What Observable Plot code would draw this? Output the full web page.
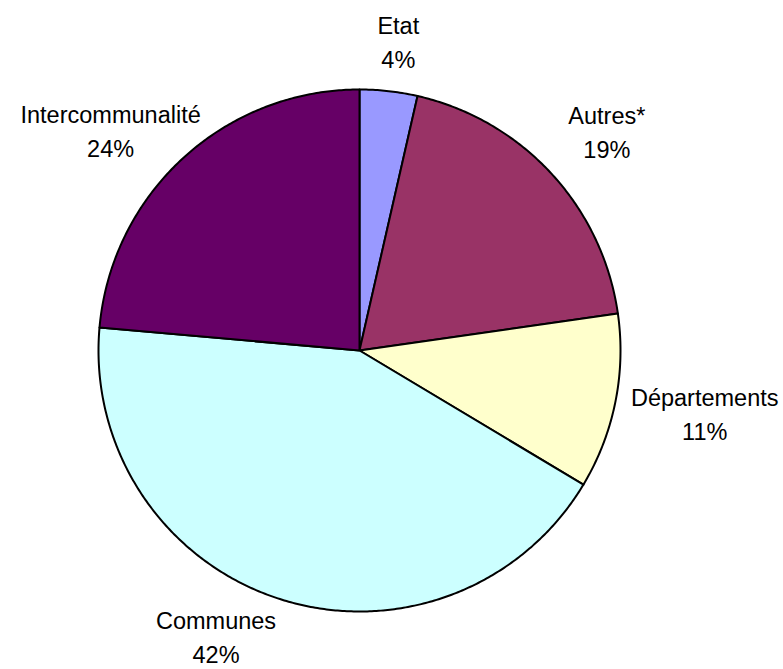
<!DOCTYPE html>
<html><head><meta charset="utf-8">
<script src="https://cdn.jsdelivr.net/npm/d3@7"></script>
<script src="https://cdn.jsdelivr.net/npm/@observablehq/plot@0.6"></script>
<style>html,body{margin:0;padding:0;background:#fff}</style>
</head><body><div id="chart"></div>
<script>
// ---- data ----
const categories = ["Etat", "Autres*", "Départements", "Communes", "Intercommunalité"];
const shares = [3.57, 19.16, 10.86, 42.82, 23.59];
const shareLabels = ["4%", "19%", "11%", "42%", "24%"];
// ---- styles ----
const colors = ["#9999FF", "#993366", "#FFFFCC", "#CCFFFF", "#660066"];

const W = 783, H = 669;
const mL = 98, mR = 163, mT = 89, mB = 58;
const R = (W - mL - mR) / 2;           // pixel radius
const CX = mL + R, CY = mT + R;         // pixel centre
const fs = 23.5, lineH = 34, capH = 0.72 * fs, descH = 0.22 * fs;
const fontFam = "Arial, 'Liberation Sans', sans-serif";

const total = d3.sum(shares);
let acc = 0;
const slices = categories.map((name, i) => {
  const a0 = acc / total * 2 * Math.PI;
  acc += shares[i];
  const a1 = acc / total * 2 * Math.PI;
  return {name, a0, a1, mid: (a0 + a1) / 2, label: name + "\n" + shareLabels[i]};
});

// slice polygons in unit coordinates (clockwise from 12 o'clock)
const pts = [];
for (const s of slices) {
  pts.push({name: s.name, x: 0, y: 0});
  const n = Math.max(2, Math.ceil((s.a1 - s.a0) / (Math.PI / 360)));
  for (let k = 0; k <= n; k++) {
    const a = s.a0 + (s.a1 - s.a0) * k / n;
    pts.push({name: s.name, x: Math.sin(a), y: Math.cos(a)});
  }
  pts.push({name: s.name, x: 0, y: 0});
}

// ---- label layout: outside end, kept inside the chart, snug against the pie ----
const ctx = document.createElement("canvas").getContext("2d");
ctx.font = `${fs}px ${fontFam}`;
const pad = 23, gap = 16, kx = 3, ky = 1.5;
const edge = {left: 20, right: 5, top: 5, bottom: 1 + descH};
const clamp = v => Math.max(-1, Math.min(1, v));
function lineBoxes(cx, cy, lines, widths) {
  const n = lines.length;
  return lines.map((t, i) => {
    const b = cy + (0.82 - n / 2 + i) * lineH;   // baseline as Plot draws it
    return {x0: cx - widths[i] / 2, x1: cx + widths[i] / 2, y0: b - capH, y1: b};
  });
}
function distRect(b) {
  const dx = Math.max(b.x0 - CX, 0, CX - b.x1), dy = Math.max(b.y0 - CY, 0, CY - b.y1);
  return Math.hypot(dx, dy);
}
const labels = slices.map(s => {
  const lines = s.label.split("\n");
  const widths = lines.map(t => ctx.measureText(t).width);
  const n = lines.length;
  const w = Math.max(...widths);
  const hb = ((n - 1) * lineH + capH) / 2;
  const off = (0.82 - n / 2) * lineH + hb - capH; // block centre minus anchor y
  const ux = Math.sin(s.mid), uy = -Math.cos(s.mid);
  let bx = CX + (R + pad) * ux + clamp(kx * ux) * w / 2;
  let by = CY + (R + pad) * uy + clamp(ky * uy) * hb;
  let cX = false;
  if (bx - w / 2 < edge.left) { bx = edge.left + w / 2; cX = true; }
  if (bx + w / 2 > W - edge.right) { bx = W - edge.right - w / 2; cX = true; }
  if (by - hb < edge.top) by = edge.top + hb;
  if (by + hb > H - edge.bottom) by = H - edge.bottom - hb;
  let cx = bx, cy = by - off;
  const hits = (x, y) => lineBoxes(x, y, lines, widths).some(b => distRect(b) < R + gap);
  // a label pushed in from a side edge slides back toward the pie's equator until it touches
  if (cX && !hits(cx, cy)) {
    const d = Math.sign(CY - cy);
    for (let k = 0; k < 400 && !hits(cx, cy + d * 0.5); k++) cy += d * 0.5;
  }
  return {label: s.label, x: (cx - CX) / R, y: (CY - cy) / R};
});

const chart = Plot.plot({
  width: W, height: H,
  marginLeft: mL, marginRight: mR, marginTop: mT, marginBottom: mB,
  x: {domain: [-1, 1], axis: null},
  y: {domain: [-1, 1], axis: null},
  color: {domain: categories, range: colors},
  style: {background: "white", fontFamily: fontFam, overflow: "visible"},
  marks: [
    Plot.line(pts, {x: "x", y: "y", z: "name", fill: "name", stroke: "black", strokeWidth: 2, strokeLinejoin: "round"}),
    Plot.text(labels, {x: "x", y: "y", text: "label", fontSize: fs, lineHeight: lineH / fs, lineAnchor: "middle", fill: "black", textAnchor: "middle"})
  ]
});
document.getElementById("chart").appendChild(chart);
</script>
</body></html>
